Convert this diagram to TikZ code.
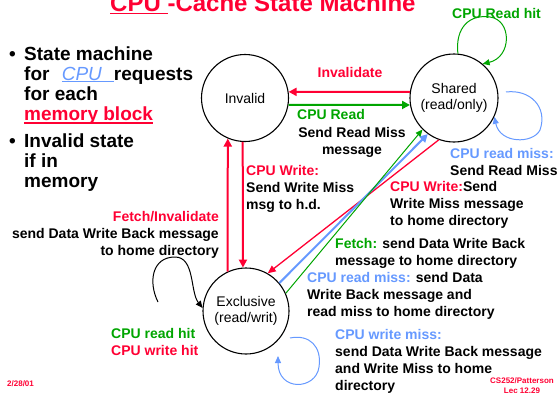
\documentclass[tikz,border=0pt]{standalone}
\usepackage{fontspec}
\setmainfont{Liberation Sans}
\usetikzlibrary{arrows.meta}
\definecolor{cred}{RGB}{255,0,51}
\definecolor{cgreen}{RGB}{0,165,0}
\definecolor{cblue}{RGB}{102,153,255}
\newcommand{\myul}[2]{\setbox0=\hbox{#2}\rlap{\rule[-#1]{\wd0}{1.5pt}}\box0}
\begin{document}
\begin{tikzpicture}[x=1pt,y=1pt,
  state/.style={circle,draw=black,line width=1.1pt,inner sep=0pt,align=center,font=\fontsize{14}{16}\selectfont},
  lab/.style={inner sep=0pt,align=left,anchor=base west,font=\fontsize{14}{17}\selectfont\bfseries},
  bul/.style={inner sep=0pt,align=left,anchor=base west,font=\fontsize{19}{20}\selectfont\bfseries},
  small/.style={inner sep=0pt,font=\fontsize{8}{10}\selectfont\bfseries,text=cred},
  redthick/.style={color=cred,line width=2pt,-{Triangle[length=8pt,width=8pt]}},
  greenthick/.style={color=cgreen,line width=2pt,-{Triangle[length=8pt,width=8pt]}},
  reddiag/.style={color=cred,line width=1.3pt,-{Triangle[length=8pt,width=7pt]}},
  bluediag/.style={color=cblue,line width=2pt,-{Triangle[length=8pt,width=8pt]}},
  greendiag/.style={color=cgreen,line width=1pt,-{Triangle[length=7pt,width=6pt]}},
  loopline/.style={line width=1pt,-{Triangle[length=7pt,width=6pt]}}
]
\useasboundingbox (0,0) rectangle (557,392);

% title
\node[inner sep=0pt,anchor=base west,font=\fontsize{24}{28}\selectfont\bfseries,text=cred] (title) at (110,380) {\myul{2pt}{CPU\ }-Cache State Machine};

% bullets (base anchor = last line)
\node[bul] (b1) at (9,332) {•};
\node[bul] (t1) at (24,272) {State machine\\for\hspace{7pt} \textcolor{cblue}{\myul{2pt}{\mdseries\itshape CPU\hspace{12pt}}}requests\\for each\\\textcolor{cred}{\myul{3.5pt}{memory block}}};
\node[bul] (b2) at (9,245) {•};
\node[bul] (t2) at (24,205) {Invalid state\\if in\\memory};

% states
\node[state,minimum size=87pt] (inv) at (245,294) {Invalid};
\node[state,minimum size=88pt] (sh) at (454,294) {Shared\\(read/only)};
\node[state,minimum size=86pt] (ex) at (246,81) {Exclusive\\(read/writ)};

% transitions
\draw[redthick] (sh.172) -- (inv.8);
\draw[greenthick] (inv.-9) -- (sh.189);
\draw[redthick] (ex.115) -- (inv.247);
\draw[redthick] (inv.267) -- (ex.94);
\draw[reddiag] (sh.250) -- (ex.60);
\draw[bluediag] (ex.40) -- (sh.234);
\draw[greendiag] (ex.24) -- (sh.225);

% self loops
\coordinate (bls) at (506,300);
\coordinate (kls) at (158,90);
\coordinate (els) at (290,54);
\coordinate (ele) at (278,36);
\draw[loopline,color=cgreen] (sh.85) .. controls (455,365) and (470,378) .. (490,375) .. controls (512,372) and (512,335) .. (sh.50);
\draw[loopline,color=cblue] (bls) .. controls (530,303) and (548,285) .. (540,262) .. controls (533,248) and (500,248) .. (sh.-25);
\draw[loopline,color=black] (kls) .. controls (148,110) and (152,135) .. (175,135) .. controls (195,135) and (190,100) .. (ex.176);
\draw[loopline,color=cblue] (els) .. controls (310,58) and (322,45) .. (319,25) .. controls (316,2) and (278,0) .. (ele);

% labels (base anchor = last line)
\node[lab,anchor=base,text=cred] (l1) at (350,314.5) {Invalidate};
\node[lab,text=cgreen] (l2) at (297,273) {CPU Read};
\node[lab,anchor=base,align=center] (l3) at (352,238) {Send Read Miss\\message};
\node[lab,text=cgreen] (l4) at (452,373) {CPU Read hit};
\node[lab] (l5) at (450,217) {\textcolor{cblue}{CPU read miss:}\\Send Read Miss};
\node[lab] (l6) at (390,167) {\textcolor{cred}{CPU Write:}Send\\Write Miss message\\to home directory};
\node[lab] (l7) at (335,127) {\textcolor{cgreen}{Fetch:} send Data Write Back\\message to home directory};
\node[lab] (l8) at (307,76) {\textcolor{cblue}{CPU read miss:} send Data\\Write Back message and\\read miss to home directory};
\node[lab] (l9) at (335,2) {\textcolor{cblue}{CPU write miss:}\\send Data Write Back message\\and Write Miss to home\\directory};
\node[lab] (l10) at (246,183) {\textcolor{cred}{CPU Write:}\\Send Write Miss\\msg to h.d.};
\node[lab,anchor=base east,align=right] (l11) at (219,137) {\textcolor{cred}{Fetch/Invalidate}\\send Data Write Back message\\to home directory};
\node[lab] (l12) at (111,37) {\textcolor{cgreen}{CPU read hit}\\\textcolor{cred}{CPU write hit}};
\node[small,anchor=base west] (date) at (7,6) {2/28/01};
\node[small,anchor=base,align=center] (foot) at (522,-1) {CS252/Patterson\\Lec 12.29};
\end{tikzpicture}
\end{document}
